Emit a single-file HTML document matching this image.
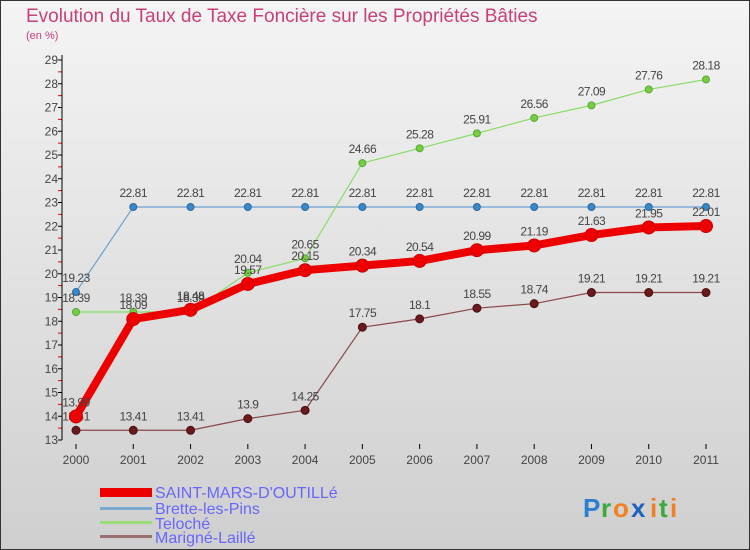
<!DOCTYPE html>
<html><head><meta charset="utf-8"><style>
body{margin:0}
svg{display:block;font-family:"Liberation Sans",sans-serif}
</style></head><body>
<svg id="c" width="750" height="550" viewBox="0 0 750 550">
<defs>
<linearGradient id="bg" x1="0" y1="0" x2="0" y2="1"><stop offset="0" stop-color="#f4f4f4"/><stop offset="1" stop-color="#cfcfcf"/></linearGradient>
</defs>
<rect x="0.5" y="0.5" width="749" height="549" fill="url(#bg)" stroke="#333"/>
<text x="26" y="22" font-size="19" fill="#c8407a">Evolution du Taux de Taxe Foncière sur les Propriétés Bâties</text>
<text x="26" y="39" font-size="11" fill="#c8407a">(en %)</text>
<g id="axes"></g><g id="series"></g>
<g font-size="16" fill="#6666ff">
<rect x="100" y="488" width="52" height="9" fill="#ee0000"/>
<text x="155" y="498">SAINT-MARS-D'OUTILLé</text>
<rect x="100" y="507" width="52" height="3" fill="#7aaad0"/>
<text x="155" y="514">Brette-les-Pins</text>
<rect x="100" y="521" width="52" height="3" fill="#99dd77"/>
<text x="155" y="529">Teloché</text>
<rect x="100" y="535" width="52" height="3" fill="#997070"/>
<text x="155" y="543">Marigné-Laillé</text>
</g>
<g font-size="26" font-weight="bold">
<text x="583" y="517" fill="#2a7fd0">P</text><text x="601" y="517" fill="#3aaa3a">r</text><text x="613" y="517" fill="#f08020">o</text><text x="631" y="517" fill="#2060c0">x</text><text x="650" y="517" fill="#f08020">i</text><text x="659" y="517" fill="#3aaa3a">t</text><text x="670" y="517" fill="#f08020">i</text>
</g>
</svg>
<script>
const years=[2000,2001,2002,2003,2004,2005,2006,2007,2008,2009,2010,2011];
const yTicks=[13,14,15,16,17,18,19,20,21,22,23,24,25,26,27,28,29];
const saintMars=[13.99,18.09,18.48,19.57,20.15,20.34,20.54,20.99,21.19,21.63,21.95,22.01];
const brette=[19.23,22.81,22.81,22.81,22.81,22.81,22.81,22.81,22.81,22.81,22.81,22.81];
const teloche=[18.39,18.39,18.39,20.04,20.65,24.66,25.28,25.91,26.56,27.09,27.76,28.18];
const marigne=[13.41,13.41,13.41,13.9,14.25,17.75,18.1,18.55,18.74,19.21,19.21,19.21];
const NS='http://www.w3.org/2000/svg';
const X=i=>76+i*(706-76)/(years.length-1);
const Y=v=>440-(v-13)*(440-60)/16;
function mk(t,a,p){const e=document.createElementNS(NS,t);for(const k in a)e.setAttribute(k,a[k]);p.appendChild(e);return e;}
const axes=document.getElementById('axes'),ser=document.getElementById('series');
yTicks.forEach(v=>{
 const t=mk('text',{x:58,y:Y(v)+4,'font-size':12,'text-anchor':'end',fill:'#444'},axes);t.textContent=v;
 
 
 mk('line',{x1:58,x2:62,y1:Y(v),y2:Y(v),stroke:'#000'},axes);
 if(v<29){mk('line',{x1:58,x2:62,y1:Y(v+0.5),y2:Y(v+0.5),stroke:'#e00'},axes);}
});
years.forEach((yr,i)=>{
 mk('line',{x1:X(i),x2:X(i),y1:444,y2:449,stroke:'#000'},axes);
 const t=mk('text',{x:X(i),y:464,'font-size':12,'text-anchor':'middle',fill:'#444'},axes);t.textContent=yr;
 
 
});
const ax=mk('path',{d:'M62 55 V440',stroke:'#000',fill:'none'},axes);


function draw(name,data,color,w,r,dot,dotStroke){
 const g=mk('g',{},ser);
 
 
 mk('polyline',{points:data.map((v,i)=>X(i)+','+Y(v)).join(' '),fill:'none',stroke:color,'stroke-width':w,'stroke-linejoin':'round'},g);
 data.forEach((v,i)=>{
  const c=mk('circle',{cx:X(i),cy:Y(v),r:r,fill:dot,stroke:dotStroke,'stroke-width':1},g);
  
  
  const t=mk('text',{x:X(i),y:Y(v)-10,'font-size':12,'text-anchor':'middle',fill:'#444','letter-spacing':'-0.5'},g);t.textContent=v;
  
  
 });
}
draw('marigne',marigne,'#8a4848',1.2,4,'#6a1a1a','#4a1010');
draw('brette',brette,'#6aa0d0',1.2,3.5,'#3a88c8','#2a6aa0');
draw('teloche',teloche,'#88dd66',1.2,3.5,'#77cc44','#55aa33');
draw('saint-mars',saintMars,'#ee0000',8,6.5,'#ee0000','#cc0000');
</script>
</body></html>
